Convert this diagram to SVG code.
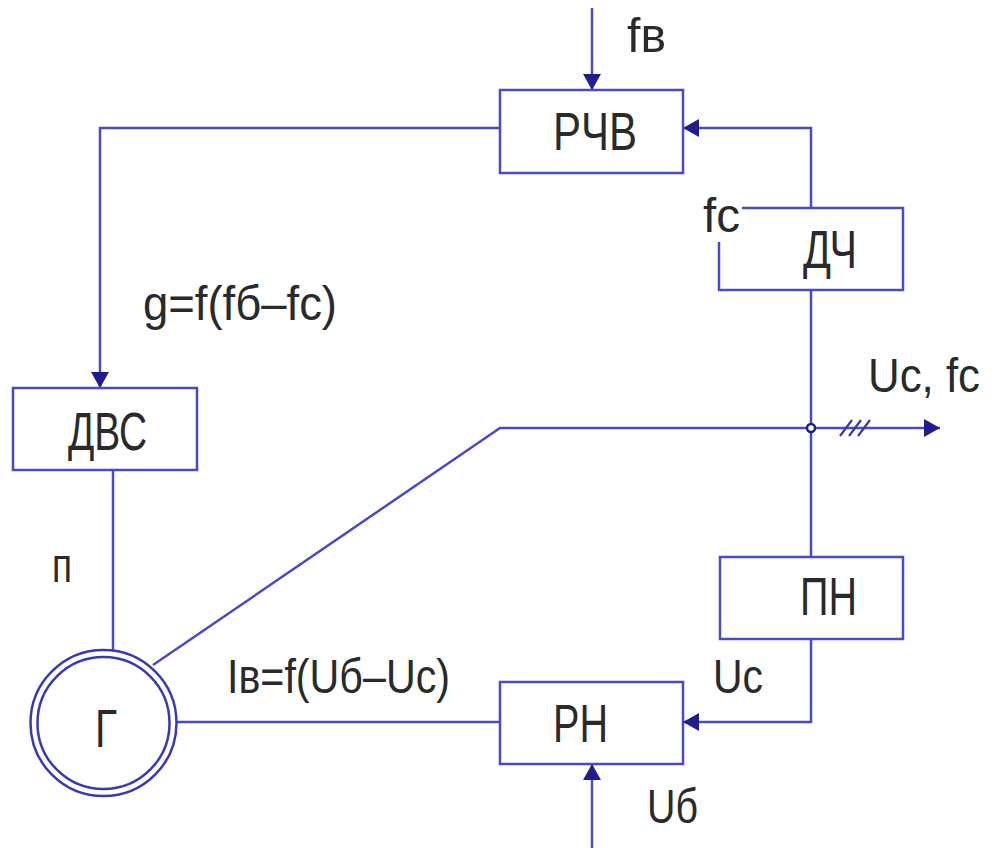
<svg xmlns="http://www.w3.org/2000/svg" width="995" height="848" viewBox="0 0 995 848">
<defs>
<marker id="arr" viewBox="0 0 16 18" refX="16" refY="9" markerWidth="16" markerHeight="18" markerUnits="userSpaceOnUse" orient="auto">
<path d="M0,0 L16,9 L0,18 z" fill="#1e1e8c"/>
</marker>
<style>
.ln{fill:none;stroke:#4a4ac4;stroke-width:2.5}
.bx{fill:#fff;stroke:#4a4ac4;stroke-width:2.5}
.t{font-family:"Liberation Sans",Arial,sans-serif;font-size:53px;fill:#2a2a2a}
.s{font-family:"Liberation Sans",Arial,sans-serif;font-size:48px;fill:#2a2a2a}
</style>
</defs>
<rect width="995" height="848" fill="#fff"/>
<g id="connectors">
<line class="ln" x1="592" y1="8" x2="592" y2="90" marker-end="url(#arr)"/>
<polyline class="ln" points="811,208 811,128 683,128" marker-end="url(#arr)"/>
<polyline class="ln" points="500,128 100,128 100,388" marker-end="url(#arr)"/>
<line class="ln" x1="113" y1="470" x2="113" y2="650"/>
<line class="ln" x1="811" y1="290" x2="811" y2="557"/>
<polyline class="ln" points="811,639 811,722 683,722" marker-end="url(#arr)"/>
<line class="ln" x1="592" y1="848" x2="592" y2="764" marker-end="url(#arr)"/>
<line class="ln" x1="177" y1="722" x2="500" y2="722"/>
<polyline class="ln" points="153,665 500,428 940,428" marker-end="url(#arr)"/>
<circle cx="811" cy="428" r="4" fill="#fff" stroke="#1e1e8c" stroke-width="2.5"/>
<g stroke="#3a3aa0" stroke-width="2.2">
<line x1="840" y1="436" x2="852" y2="420"/>
<line x1="849" y1="436" x2="861" y2="420"/>
<line x1="858" y1="436" x2="870" y2="420"/>
</g>
</g>
<g id="rchv">
<rect class="bx" x="500" y="90" width="183" height="83"/>
<text class="t" x="553" y="150" textLength="84" lengthAdjust="spacingAndGlyphs">РЧВ</text>
</g>
<g id="dch">
<rect class="bx" x="719" y="208" width="184" height="82"/>
<rect x="700" y="194" width="42" height="48" fill="#fff"/>
<text class="t" x="803" y="268" textLength="54" lengthAdjust="spacingAndGlyphs">ДЧ</text>
</g>
<g id="dvs">
<rect class="bx" x="13" y="388" width="184" height="82"/>
<text class="t" x="68" y="450" textLength="79" lengthAdjust="spacingAndGlyphs">ДВС</text>
</g>
<g id="pn">
<rect class="bx" x="720" y="557" width="183" height="82"/>
<text class="t" x="800" y="615" textLength="57" lengthAdjust="spacingAndGlyphs">ПН</text>
</g>
<g id="rn">
<rect class="bx" x="500" y="682" width="183" height="82"/>
<text class="t" x="553" y="742" textLength="55" lengthAdjust="spacingAndGlyphs">РН</text>
</g>
<g id="gen">
<circle cx="103.5" cy="723" r="73" fill="#fff" stroke="#3a3ab0" stroke-width="2.5"/>
<circle cx="103.5" cy="723" r="66" fill="#fff" stroke="#3a3ab0" stroke-width="2.5"/>
<text class="t" x="95" y="747" textLength="22" lengthAdjust="spacingAndGlyphs">Г</text>
</g>
<g id="labels">
<text class="s" x="627" y="52" textLength="39" lengthAdjust="spacingAndGlyphs">fв</text>
<text class="s" x="703" y="232" textLength="37" lengthAdjust="spacingAndGlyphs">fc</text>
<text class="s" x="143" y="320" textLength="194" lengthAdjust="spacingAndGlyphs">g=f(fб–fc)</text>
<text class="s" x="868" y="392" textLength="112" lengthAdjust="spacingAndGlyphs">Uc, fc</text>
<text class="s" x="52" y="582" textLength="20" lengthAdjust="spacingAndGlyphs">п</text>
<text class="s" x="227" y="693" textLength="223" lengthAdjust="spacingAndGlyphs">Iв=f(Uб–Uc)</text>
<text class="s" x="713" y="693" textLength="50" lengthAdjust="spacingAndGlyphs">Uc</text>
<text class="s" x="647" y="823" textLength="51" lengthAdjust="spacingAndGlyphs">Uб</text>
</g>
</svg>
